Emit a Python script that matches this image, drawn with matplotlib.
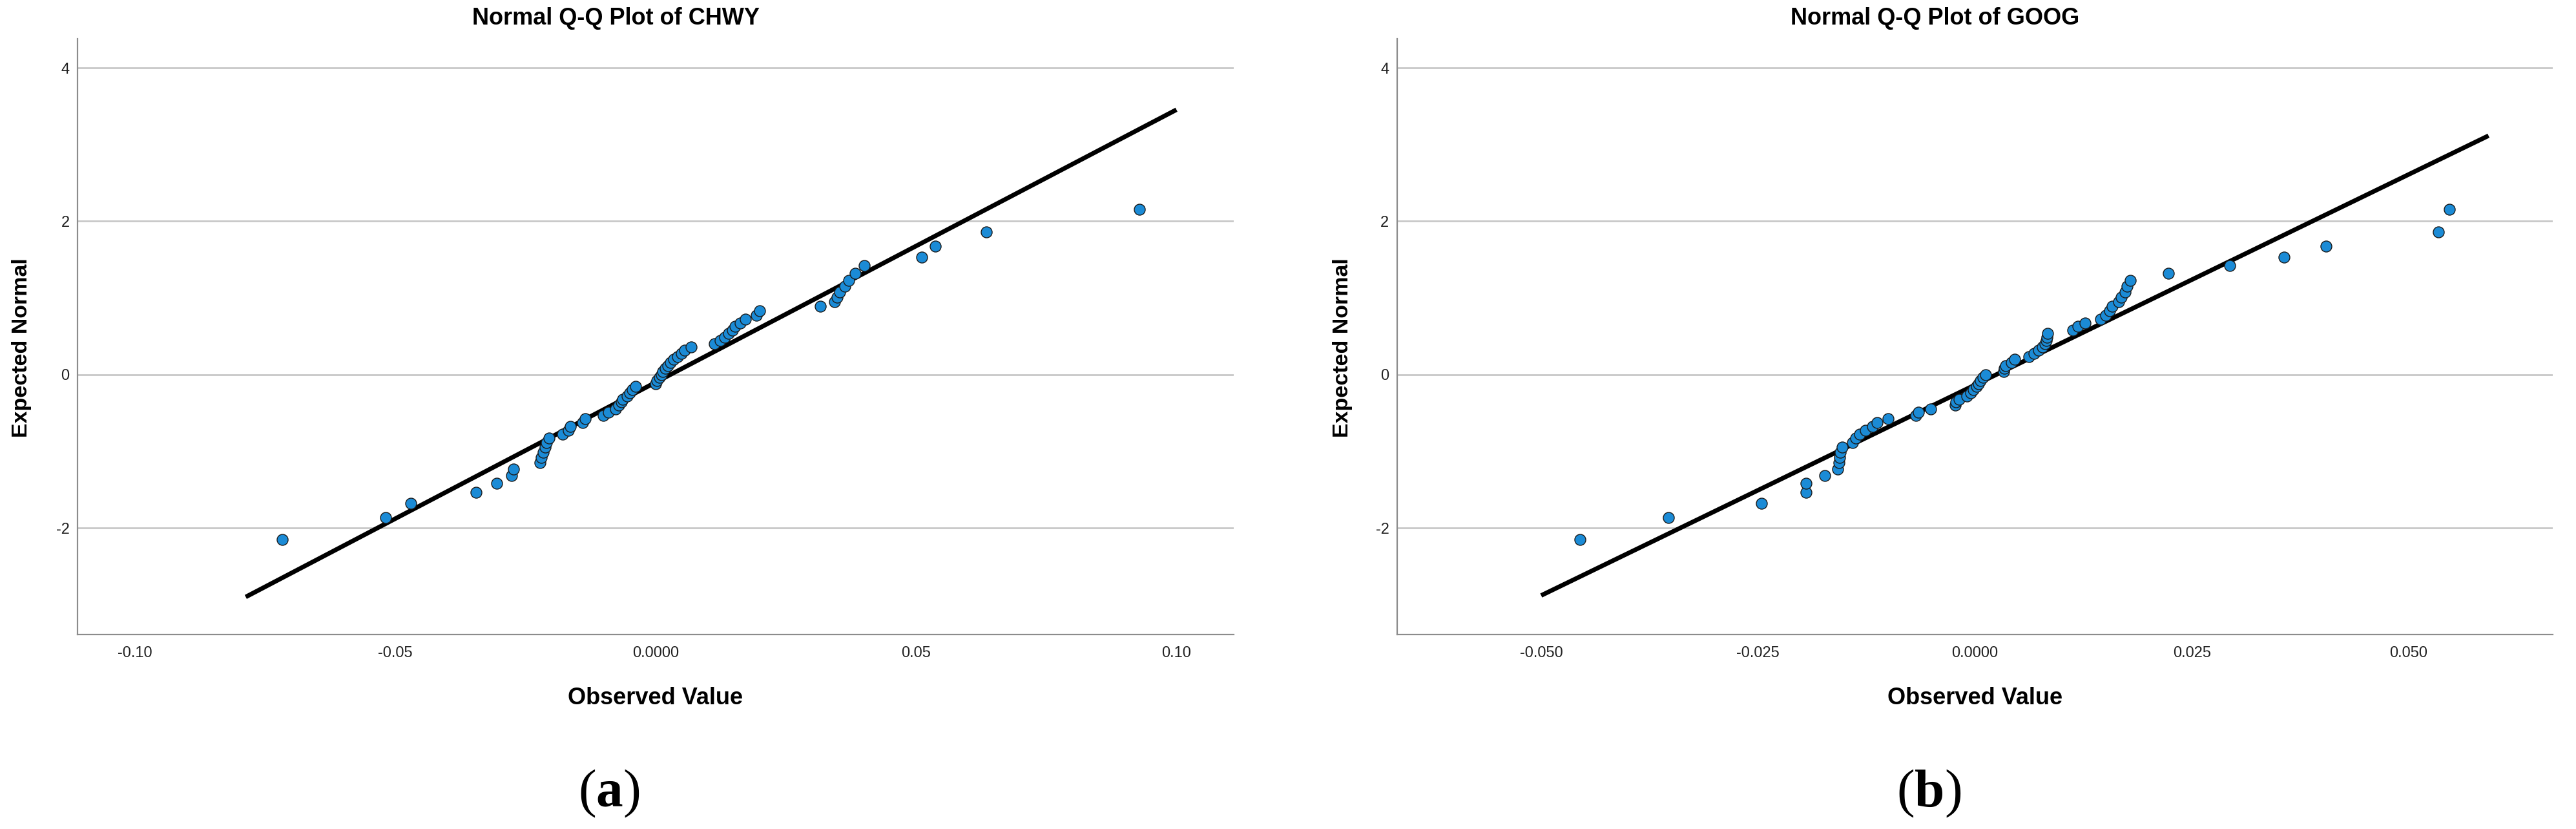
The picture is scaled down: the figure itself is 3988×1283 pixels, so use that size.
import numpy as np
import matplotlib
matplotlib.use("Agg")
import matplotlib.pyplot as plt
from matplotlib.ticker import FixedLocator, FixedFormatter

plt.rcParams['font.family'] = ['Liberation Sans', 'DejaVu Sans']
plt.rcParams['mathtext.fontset'] = 'custom'
plt.rcParams['mathtext.rm'] = 'Liberation Serif'
plt.rcParams['mathtext.bf'] = 'Liberation Serif:bold'

# ---------------- data ----------------
# expected normal values (same ranks for both series, n = 63)
expected_normal = [
    -2.154, -1.863, -1.676, -1.534, -1.418, -1.318, -1.230, -1.150, -1.078, -1.010,
    -0.946, -0.887, -0.831, -0.776, -0.725, -0.675, -0.626, -0.579, -0.533, -0.489,
    -0.445, -0.402, -0.360, -0.319, -0.278, -0.237, -0.197, -0.157, -0.118, -0.078,
    -0.039, 0.000, 0.039, 0.078, 0.118, 0.157, 0.197, 0.237, 0.278, 0.319,
    0.360, 0.402, 0.445, 0.489, 0.533, 0.579, 0.626, 0.675, 0.725, 0.776,
    0.831, 0.887, 0.946, 1.010, 1.078, 1.150, 1.230, 1.318, 1.418, 1.534,
    1.676, 1.863, 2.154]

chwy_observed = [
    -0.0717, -0.0519, -0.0470, -0.0345, -0.0305, -0.0277, -0.0273, -0.0222, -0.0219, -0.0216,
    -0.0212, -0.0209, -0.0205, -0.0179, -0.0167, -0.0164, -0.0140, -0.0135, -0.0100, -0.0091,
    -0.0077, -0.0071, -0.0066, -0.0063, -0.0055, -0.0049, -0.0045, -0.0039, 0.0000, 0.0003,
    0.0008, 0.0011, 0.0014, 0.0018, 0.0023, 0.0029, 0.0035, 0.0042, 0.0049, 0.0056,
    0.0068, 0.0113, 0.0124, 0.0133, 0.0140, 0.0147, 0.0153, 0.0162, 0.0172, 0.0193,
    0.0200, 0.0316, 0.0344, 0.0349, 0.0353, 0.0364, 0.0371, 0.0383, 0.0401, 0.0511,
    0.0537, 0.0635, 0.0929]

goog_observed = [
    -0.0455, -0.0353, -0.0246, -0.0195, -0.0195, -0.0173, -0.0158, -0.0157, -0.0156, -0.0155,
    -0.0153, -0.0141, -0.0137, -0.0133, -0.0126, -0.0118, -0.0113, -0.0100, -0.0068, -0.0065,
    -0.0051, -0.0023, -0.0022, -0.0018, -0.0009, -0.0005, -0.0002, 0.0002, 0.0004, 0.0006,
    0.0009, 0.0012, 0.0033, 0.0034, 0.0035, 0.0042, 0.0046, 0.0062, 0.0068, 0.0073,
    0.0078, 0.0081, 0.0082, 0.0083, 0.0084, 0.0113, 0.0119, 0.0127, 0.0145, 0.0151,
    0.0155, 0.0158, 0.0166, 0.0169, 0.0173, 0.0175, 0.0179, 0.0223, 0.0294, 0.0356,
    0.0405, 0.0534, 0.0547]

# reference line parameters (mean, sd) and x-extent
chwy_line_params = [0.00285, 0.02812]
chwy_line_x = [-0.0787, 0.1000]
goog_line_params = [0.00246, 0.01821]
goog_line_x = [-0.0500, 0.0592]

titles = ["Normal Q-Q Plot of CHWY", "Normal Q-Q Plot of GOOG"]
panel_labels = ["a", "b"]
y_ticks = [-2, 0, 2, 4]
y_ticklabels = ["-2", "0", "2", "4"]
chwy_xticks = [-0.10, -0.05, 0.0, 0.05, 0.10]
chwy_xticklabels = ["-0.10", "-0.05", "0.0000", "0.05", "0.10"]
goog_xticks = [-0.050, -0.025, 0.0, 0.025, 0.050]
goog_xticklabels = ["-0.050", "-0.025", "0.0000", "0.025", "0.050"]

# ---------------- figure ----------------
W, H = 3988, 1283
fig = plt.figure(figsize=(W / 100, H / 100), dpi=100)

panels = [
    dict(obs=chwy_observed, lp=chwy_line_params, lx=chwy_line_x,
         xt=chwy_xticks, xtl=chwy_xticklabels, xlim=(-0.111, 0.111),
         rect=[120 / W, 1 - 982 / H, 1790 / W, 922 / H],
         title_x=953, ylab_x=34, lab_x=943),
    dict(obs=goog_observed, lp=goog_line_params, lx=goog_line_x,
         xt=goog_xticks, xtl=goog_xticklabels, xlim=(-0.0666, 0.0666),
         rect=[2163 / W, 1 - 982 / H, 1789 / W, 922 / H],
         title_x=2996, ylab_x=2078, lab_x=2986),
]

marker_color = '#1b8bd6'
grid_color = '#c8c8c8'
spine_color = '#8c8c8c'

for i, p in enumerate(panels):
    ax = fig.add_axes(p['rect'])
    ax.set_xlim(*p['xlim'])
    ax.set_ylim(-3.39, 4.38)
    for yv in y_ticks:
        ax.axhline(yv, color=grid_color, lw=2.0, zorder=1)
    lx = np.array(p['lx'])
    mean, sd = p['lp']
    ax.plot(lx, (lx - mean) / sd, color='black', lw=5, solid_capstyle='butt', zorder=2)
    ax.scatter(p['obs'], expected_normal, s=150, facecolor=marker_color,
               edgecolor='#1a1a1a', linewidth=1.0, zorder=3)

    for s in ['top', 'right']:
        ax.spines[s].set_visible(False)
    for s in ['left', 'bottom']:
        ax.spines[s].set_color(spine_color)
        ax.spines[s].set_linewidth(1.6)
    ax.yaxis.set_major_locator(FixedLocator(y_ticks))
    ax.yaxis.set_major_formatter(FixedFormatter(y_ticklabels))
    ax.xaxis.set_major_locator(FixedLocator(p['xt']))
    ax.xaxis.set_major_formatter(FixedFormatter(p['xtl']))
    ax.tick_params(axis='x', length=0, pad=13, labelsize=17, colors='#222222')
    ax.tick_params(axis='y', length=0, pad=9, labelsize=17, colors='#222222')

    fig.text(p['title_x'] / W, 1 - 29 / H, titles[i], ha='center', va='center',
             fontsize=26, fontweight='bold')
    cx = (p['rect'][0] + p['rect'][2] / 2)
    fig.text(cx, 1 - 1081 / H, "Observed Value", ha='center', va='center',
             fontsize=26, fontweight='bold')
    fig.text(p['ylab_x'] / W, 1 - 538 / H, "Expected Normal", ha='center', va='center',
             rotation=90, fontsize=24.5, fontweight='bold')
    fig.text(p['lab_x'] / W, 1 - 1228 / H, "($\\mathbf{%s}$)" % panel_labels[i],
             ha='center', va='center', fontsize=60, family='Liberation Serif')

fig.savefig("out.png", dpi=100, facecolor='white')
